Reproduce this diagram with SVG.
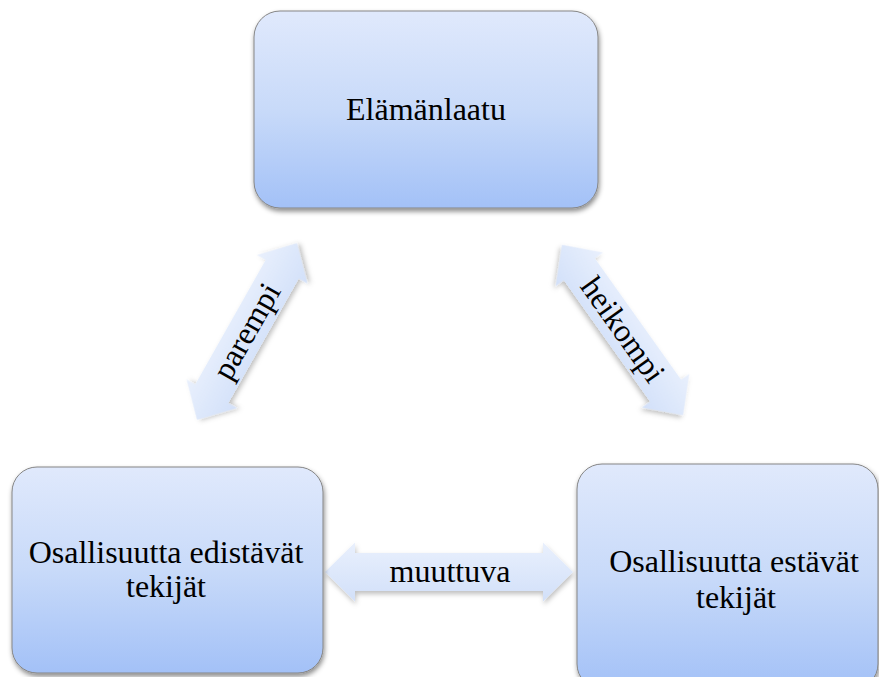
<svg xmlns="http://www.w3.org/2000/svg" width="879" height="677" viewBox="0 0 879 677">
  <defs>
    <linearGradient id="boxFill" x1="0" y1="0" x2="0" y2="1">
      <stop offset="0" stop-color="#e0e9fc"/>
      <stop offset="0.5" stop-color="#c8daf9"/>
      <stop offset="1" stop-color="#a3c1f7"/>
    </linearGradient>
    <linearGradient id="arrowFill" x1="0" y1="0" x2="0" y2="1">
      <stop offset="0" stop-color="#e9f0fd"/>
      <stop offset="1" stop-color="#d2e0f9"/>
    </linearGradient>
    <filter id="shadow" x="-10%" y="-10%" width="125%" height="130%">
      <feDropShadow dx="1" dy="3" stdDeviation="2.5" flood-color="#000" flood-opacity="0.45"/>
    </filter>
    <filter id="arrowShadow" x="-20%" y="-30%" width="140%" height="170%">
      <feDropShadow dx="1" dy="3" stdDeviation="2.5" flood-color="#000" flood-opacity="0.25"/>
    </filter>
    <!-- double-headed block arrow, centred on the origin along x -->
    <path id="dbl" d="M0,0 L30,-29 L30,-19 L-30,-19 L-30,-29 Z"/>
  </defs>
  <style>
    .box { fill: url(#boxFill); stroke: #858585; stroke-width: 1; filter: url(#shadow); }
    .arrow { fill: url(#arrowFill); stroke: none; filter: url(#arrowShadow); }
    .lbl { font-family: "Liberation Serif", "Times New Roman", serif; font-size: 32px; fill: #000; text-anchor: middle; }
  </style>

  <g id="connectors">
    <!-- parempi: lower-left box <-> top box -->
    <g id="edge-parempi" transform="translate(247,331.5) rotate(-60.5)">
      <path class="arrow" d="M-101.5,0 L-71.5,-29 L-71.5,-19 L71.5,-19 L71.5,-29 L101.5,0 L71.5,29 L71.5,19 L-71.5,19 L-71.5,29 Z"/>
      <text class="lbl" x="0" y="10">parempi</text>
    </g>
    <!-- heikompi: top box <-> lower-right box -->
    <g id="edge-heikompi" transform="translate(622.5,330) rotate(54.6)">
      <path class="arrow" d="M-104.5,0 L-74.5,-29 L-74.5,-19 L74.5,-19 L74.5,-29 L104.5,0 L74.5,29 L74.5,19 L-74.5,19 L-74.5,29 Z"/>
      <text class="lbl" x="0" y="10">heikompi</text>
    </g>
    <!-- muuttuva: between the two lower boxes -->
    <g id="edge-muuttuva" transform="translate(449,572)">
      <path class="arrow" d="M-124,0 L-94,-29.5 L-94,-19 L94,-19 L94,-29.5 L124,0 L94,29.5 L94,19 L-94,19 L-94,29.5 Z"/>
      <text class="lbl" x="1" y="10">muuttuva</text>
    </g>
  </g>

  <g id="node-elamanlaatu">
    <rect class="box" x="254" y="11" width="344" height="197" rx="26" ry="26"/>
    <text class="lbl" x="426" y="120">Elämänlaatu</text>
  </g>

  <g id="node-edistavat">
    <rect class="box" x="12" y="467" width="311" height="206" rx="25" ry="25"/>
    <text class="lbl" x="166" y="563">Osallisuutta edistävät</text>
    <text class="lbl" x="166" y="597">tekijät</text>
  </g>

  <g id="node-estavat">
    <rect class="box" x="577" y="464" width="301" height="225" rx="25" ry="25"/>
    <text class="lbl" x="734" y="572">Osallisuutta estävät</text>
    <text class="lbl" x="736" y="608">tekijät</text>
  </g>
</svg>
